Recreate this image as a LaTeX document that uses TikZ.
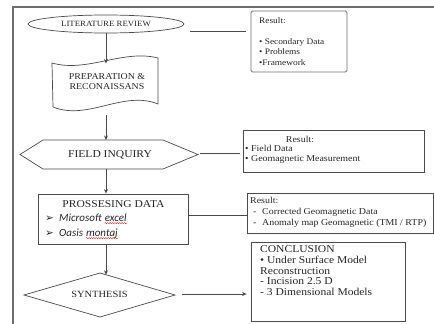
\documentclass[tikz,border=0pt]{standalone}
\usepackage{fontspec}
\setmainfont{Liberation Serif}[FakeStretch=1.1]
\newfontfamily\calib{Carlito}
\newfontfamily\dejavu{DejaVu Sans}
\usetikzlibrary{arrows.meta,shapes.geometric,decorations.pathmorphing}
\definecolor{linec}{HTML}{4A4A4A}
\definecolor{textc}{HTML}{262626}
\definecolor{framec}{HTML}{6E6E6E}
\tikzset{
  ln/.style={draw=linec, line width=0.7pt},
  arr/.style={ln, -{Stealth[length=4.5pt,width=4pt]}},
  boxst/.style={draw=linec, line width=0.8pt, inner sep=0pt, rectangle},
  txt/.style={inner sep=0pt, text=textc, align=left},
  squig/.style={draw=red!85!black, line width=0.35pt, decorate, decoration={snake, amplitude=0.55pt, segment length=2.4pt}},
}
\begin{document}
\begin{tikzpicture}[x=1pt,y=-1pt]
\path[use as bounding box] (0,0) rectangle (434,324);
% outer frame
\draw[draw=framec, line width=1.1pt] (434,7) -- (13,7) -- (13,324);

% ---- left flow ----
\node[ellipse, ln, minimum width=156pt, minimum height=18pt, inner sep=0pt, text=textc,
      font=\fontsize{8}{9}\selectfont] (lit) at (106,24) {LITERATURE REVIEW};

\draw[ln] (52,63) .. controls (87,73) and (123,49) .. (158,58) -- (158,104)
          .. controls (123,90) and (88,121) .. (53,107) -- cycle;
\node[txt, align=center, font=\fontsize{9}{10}\selectfont] (prep) at (107,82) {PREPARATION \&\\RECONAISSANS};
\coordinate (prepTop) at (106,63.5);
\coordinate (prepBot) at (106,115);

\draw[ln] (20,154.5) -- (43,140) -- (163,140) -- (198,154.5) -- (163,169) -- (43,169) -- cycle;
\node[txt, font=\fontsize{10.5}{12}\selectfont] (field) at (110,155) {FIELD INQUIRY};
\coordinate (fTop) at (106,140);
\coordinate (fBot) at (106,169);
\coordinate (fR) at (200,153);

\node[boxst, minimum width=150pt, minimum height=50pt] (proc) at (113,219) {};
\node[txt, font=\fontsize{10.5}{12}\selectfont] (proct) at (113.5,204.5) {PROSSESING DATA};
\node[txt, anchor=base west, font=\dejavu\fontsize{10.5}{12}\selectfont] (ar1) at (45,221.5) {➢};
\node[txt, anchor=base west, font=\calib\itshape\fontsize{11}{12}\selectfont] (m1) at (59,221.5) {Microsoft};
\node[txt, anchor=base west, font=\calib\itshape\fontsize{11}{12}\selectfont, xshift=2.6pt] (m2) at (m1.base east) {excel};
\node[txt, anchor=base west, font=\dejavu\fontsize{10.5}{12}\selectfont] (ar2) at (45,236.5) {➢};
\node[txt, anchor=base west, font=\calib\itshape\fontsize{11}{12}\selectfont] (o1) at (59,236.5) {Oasis};
\node[txt, anchor=base west, font=\calib\itshape\fontsize{11}{12}\selectfont, xshift=2.6pt] (o2) at (o1.base east) {montaj};
\draw[squig] ([yshift=-1.6pt]m2.base west) -- ([yshift=-1.6pt]m2.base east);
\draw[squig] ([yshift=-1.6pt]o2.base west) -- ([yshift=-1.6pt]o2.base east);
\coordinate (pR) at (188,215);

\draw[ln] (24,295) -- (100,273) -- (175,295) -- (100,317) -- cycle;
\node[txt, font=\fontsize{9.5}{11}\selectfont] (syn) at (99.5,294) {SYNTHESIS};
\coordinate (dTop) at (106,274.8);
\coordinate (dR) at (182,294);

% ---- result boxes ----
\node[boxst, draw=linec!80, rounded corners=1.5pt, line width=0.9pt, minimum width=96pt, minimum height=61pt] (r1) at (299,41.5) {};
\node[txt, anchor=north west, font=\fontsize{8.5}{10.5}\selectfont] (r1t) at (259,17)
  {Result:\\[10.5pt]\textbullet\ Secondary Data\\\textbullet\ Problems\\\textbullet Framework};

\node[boxst, minimum width=181pt, minimum height=42pt] (r2) at (333.5,151) {};
\node[txt, font=\fontsize{9}{10}\selectfont] (r2h) at (300,139) {Result:};
\node[txt, anchor=north west, font=\fontsize{9}{10}\selectfont] (r2t) at (245,145.5)
  {\textbullet\ Field Data\\\textbullet\ Geomagnetic Measurement};

\node[boxst, minimum width=186pt, minimum height=40pt] (r3) at (340,213) {};
\node[txt, anchor=north west, font=\fontsize{9}{10.8}\selectfont] (r3t) at (250,197.5)
  {Result:\\\makebox[12pt][l]{\hspace{3pt}-}Corrected Geomagnetic Data\\\makebox[12pt][l]{\hspace{3pt}-}Anomaly map Geomagnetic (TMI / RTP)};

\node[boxst, minimum width=154pt, minimum height=79pt] (r4) at (328,281.5) {};
\node[txt, anchor=north west, font=\fontsize{10.5}{10.7}\selectfont] (r4t) at (260,245.5)
  {CONCLUSION\\\textbullet\ Under Surface Model\\Reconstruction\\- Incision 2.5 D\\- 3 Dimensional Models};

% ---- connectors ----
\draw[arr] (lit) -- (prepTop);
\draw[arr] (prepBot) -- (fTop);
\draw[arr] (fBot) -- (fBot |- proc.north);
\draw[arr] (proc.south -| dTop) -- (dTop);
\coordinate (lR) at (190,31);
\draw[ln, shorten >=5pt] (lR) -- (lR -| r1.west);
\draw[ln, shorten >=3pt] (fR) -- (fR -| r2.west);
\draw[ln] (pR) -- (pR -| r3.west);
\draw[arr, shorten >=4pt] (dR) -- (dR -| r4.west);
\end{tikzpicture}
\end{document}
